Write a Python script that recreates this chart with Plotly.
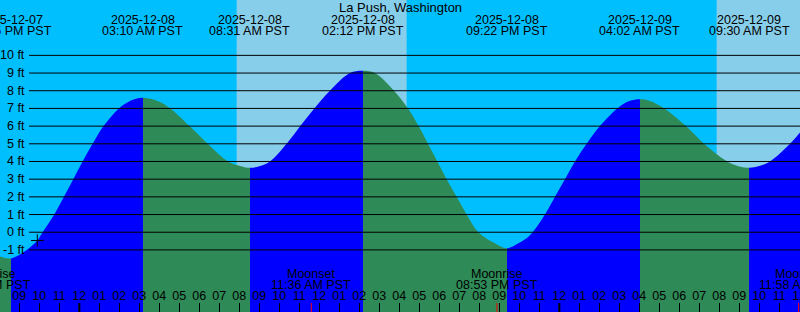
import plotly.graph_objects as go
from datetime import datetime

FONT = "Liberation Sans"
W, H = 800, 312

STATION = "La Push, Washington"
X_START = "2025-12-07 20:02:06"
X_END = "2025-12-09 12:02:06"
Y_RANGE = [-4.51, 13.13]
Y_TICKS = [-1, 0, 1, 2, 3, 4, 5, 6, 7, 8, 9, 10]

# tide extremes
tide_times = ["2025-12-07 20:35", "2025-12-08 03:10", "2025-12-08 08:31",
              "2025-12-08 14:12", "2025-12-08 21:22", "2025-12-09 04:02",
              "2025-12-09 09:30"]
tide_heights = [-1.48, 7.60, 3.64, 9.13, -0.91, 7.52, 3.65]

# water level readings taken from the curve (ft)
curve_times = [
    "2025-12-07 20:00", "2025-12-07 20:35", "2025-12-07 21:22", "2025-12-07 21:54",
    "2025-12-07 22:10", "2025-12-07 22:45", "2025-12-07 23:14", "2025-12-07 23:42",
    "2025-12-08 00:10", "2025-12-08 00:40", "2025-12-08 01:13", "2025-12-08 01:59",
    "2025-12-08 02:32", "2025-12-08 02:50", "2025-12-08 03:10", "2025-12-08 03:30",
    "2025-12-08 04:00", "2025-12-08 04:33", "2025-12-08 05:31", "2025-12-08 06:25",
    "2025-12-08 07:26", "2025-12-08 08:00", "2025-12-08 08:31", "2025-12-08 09:00",
    "2025-12-08 09:32", "2025-12-08 10:22", "2025-12-08 11:03", "2025-12-08 11:45",
    "2025-12-08 12:32", "2025-12-08 13:32", "2025-12-08 14:12", "2025-12-08 14:47",
    "2025-12-08 15:44", "2025-12-08 16:26", "2025-12-08 16:58", "2025-12-08 17:26",
    "2025-12-08 17:54", "2025-12-08 18:22", "2025-12-08 18:52", "2025-12-08 19:22",
    "2025-12-08 19:57", "2025-12-08 20:47", "2025-12-08 21:22", "2025-12-08 22:00",
    "2025-12-08 22:32", "2025-12-08 23:17", "2025-12-08 23:47", "2025-12-09 00:17",
    "2025-12-09 00:47", "2025-12-09 01:22", "2025-12-09 02:02", "2025-12-09 02:54",
    "2025-12-09 03:30", "2025-12-09 04:02", "2025-12-09 04:30", "2025-12-09 05:15",
    "2025-12-09 06:20", "2025-12-09 07:14", "2025-12-09 08:24", "2025-12-09 09:00",
    "2025-12-09 09:30", "2025-12-09 10:00", "2025-12-09 10:32", "2025-12-09 11:32",
    "2025-12-09 12:03",
]
curve_heights = [
    -1.36, -1.48, -1.00, -0.47,
    0.00, 1.00, 2.00, 3.00,
    4.00, 5.00, 6.00, 7.00,
    7.42, 7.55, 7.60, 7.56,
    7.38, 7.00, 6.00, 5.00,
    4.00, 3.76, 3.64, 3.73,
    4.00, 5.00, 6.00, 7.00,
    8.00, 9.00, 9.13, 9.00,
    8.00, 7.00, 6.00, 5.00,
    4.00, 3.00, 2.00, 1.00,
    0.00, -0.63, -0.91, -0.60,
    -0.17, 1.00, 2.00, 3.00,
    4.00, 5.00, 6.00, 7.00,
    7.42, 7.52, 7.44, 7.00,
    6.00, 5.00, 4.00, 3.72,
    3.65, 3.74, 4.00, 5.00,
    5.66,
]

NOW_TIME = "2025-12-07 21:54"
NOW_HEIGHT = -0.47

sunrise_times = ["2025-12-08 07:52", "2025-12-09 07:52"]
sunset_times = ["2025-12-08 16:22", "2025-12-09 16:23"]

moon_times = ["2025-12-07 19:31", "2025-12-08 11:36", "2025-12-08 20:53", "2025-12-09 11:58"]
moon_events = ["Moonrise", "Moonset", "Moonrise", "Moonset"]
midnights = ["2025-12-08 00:00", "2025-12-09 00:00"]

RISING = "#0000FF"
FALLING = "#2E8B57"
NIGHT = "#00BFFF"
DAY = "#87CEEB"

FMT = "%Y-%m-%d %H:%M"
t0 = datetime.strptime(X_START, "%Y-%m-%d %H:%M:%S")
t1 = datetime.strptime(X_END, "%Y-%m-%d %H:%M:%S")


def xfrac(s):
    t = datetime.strptime(s, FMT)
    return (t - t0).total_seconds() / (t1 - t0).total_seconds()


def py(p):
    return 1 - p / H


# piecewise colour along the curve: blue while rising, green while falling
c0 = datetime.strptime(curve_times[0], FMT)
c1 = datetime.strptime(curve_times[-1], FMT)
span = (c1 - c0).total_seconds()
edges = [0.0] + [(datetime.strptime(t, FMT) - c0).total_seconds() / span
                 for t in tide_times] + [1.0]
levels = [curve_heights[0]] + tide_heights + [curve_heights[-1]]
seg_cols = [RISING if levels[i + 1] > levels[i] else FALLING
            for i in range(len(levels) - 1)]
cscale = []
for i, col in enumerate(seg_cols):
    cscale.append([edges[i], col])
    cscale.append([edges[i + 1], col])

fig = go.Figure()
fig.add_trace(go.Scatter(x=[curve_times[0], curve_times[-1]], y=[Y_RANGE[0], Y_RANGE[0]],
                         mode="lines", line=dict(width=0), hoverinfo="skip"))
fig.add_trace(go.Scatter(x=curve_times, y=curve_heights, mode="lines",
                         line=dict(width=0, shape="spline", smoothing=1, color=RISING),
                         fill="tonexty",
                         fillgradient=dict(type="horizontal", colorscale=cscale),
                         hoverinfo="skip"))

fig.add_trace(go.Scatter(x=[NOW_TIME], y=[NOW_HEIGHT], mode="markers",
                         marker=dict(symbol="cross-thin", size=9,
                                     line=dict(width=1, color="black")),
                         hoverinfo="skip"))

shapes = []
for sr, ss in zip(sunrise_times, sunset_times):
    shapes.append(dict(type="rect", xref="x", yref="paper", x0=sr, x1=ss, y0=0, y1=1,
                       fillcolor=DAY, line=dict(width=0), layer="below"))
for v in Y_TICKS:
    shapes.append(dict(type="line", xref="paper", yref="y", x0=29 / W, x1=1, y0=v, y1=v,
                       line=dict(color="black", width=1), layer="above"))
for m in midnights:
    shapes.append(dict(type="line", xref="x", yref="paper", x0=m, x1=m, y0=0, y1=9 / H,
                       line=dict(color="black", width=2), layer="above"))
for m in moon_times:
    shapes.append(dict(type="line", xref="x", yref="paper", x0=m, x1=m, y0=0, y1=9 / H,
                       line=dict(color="red", width=1), layer="above"))

ann = []
fnt = dict(family=FONT, size=12.5, color="black")
ann.append(dict(text=STATION, xref="paper", yref="paper", x=0.5, y=py(7),
                xanchor="center", yanchor="middle", showarrow=False,
                font=dict(family=FONT, size=13, color="black")))
for t in tide_times:
    d = datetime.strptime(t, FMT)
    ann.append(dict(text=d.strftime("%Y-%m-%d"), xref="paper", yref="paper",
                    x=xfrac(t), y=py(19.5), xanchor="center", yanchor="middle",
                    showarrow=False, font=fnt))
    ann.append(dict(text=d.strftime("%I:%M %p PST"), xref="paper", yref="paper",
                    x=xfrac(t), y=py(31), xanchor="center", yanchor="middle",
                    showarrow=False, font=fnt))
for t, e in zip(moon_times, moon_events):
    d = datetime.strptime(t, FMT)
    ann.append(dict(text=e, xref="paper", yref="paper", x=xfrac(t), y=py(273.8),
                    xanchor="center", yanchor="middle", showarrow=False, font=fnt))
    ann.append(dict(text=d.strftime("%I:%M %p PST"), xref="paper", yref="paper",
                    x=xfrac(t), y=py(285.3), xanchor="center", yanchor="middle",
                    showarrow=False, font=fnt))
for v in Y_TICKS:
    ann.append(dict(text=f"{v} ft", xref="paper", yref="y", x=27 / W, y=v,
                    xanchor="right", yanchor="middle", showarrow=False, font=fnt))

fig.update_layout(
    width=W, height=H, margin=dict(l=0, r=0, t=0, b=0, pad=0, autoexpand=False),
    plot_bgcolor=NIGHT, paper_bgcolor=NIGHT, showlegend=False,
    shapes=shapes, annotations=ann,
    xaxis=dict(type="date", range=[X_START, X_END], showgrid=False, zeroline=False,
               showline=False, ticks="inside", ticklen=9, tickwidth=1, tickcolor="black",
               dtick=3600000, tick0="2025-12-08 00:00", tickformat="%I",
               ticklabelposition="inside", ticklabeloverflow="allow",
               automargin=False, tickfont=fnt, fixedrange=True),
    yaxis=dict(range=Y_RANGE, showgrid=False, zeroline=False, showticklabels=False,
               ticks="", showline=False, automargin=False, fixedrange=True),
)

fig.write_html("out.html", config={"displayModeBar": False})
